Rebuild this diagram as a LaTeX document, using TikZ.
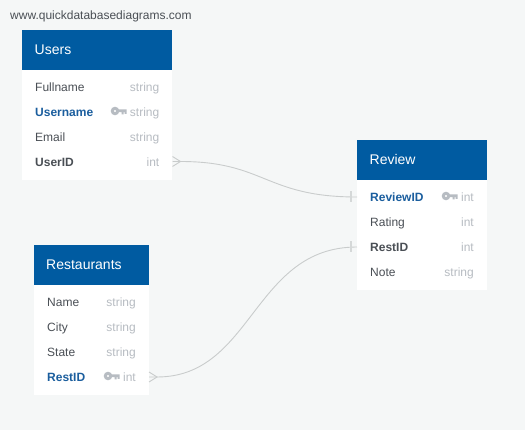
\documentclass[tikz,border=0pt]{standalone}
\usepackage{fontspec}
\setmainfont{Liberation Sans}
\definecolor{bgc}{HTML}{F5F7F7}
\definecolor{headc}{HTML}{005BA1}
\definecolor{rowc}{HTML}{4A4F55}
\definecolor{typec}{HTML}{B7BCC2}
\definecolor{pkc}{HTML}{1B5E9E}
\definecolor{linkc}{HTML}{C9CCCC}
\definecolor{tickc}{HTML}{D5D8D8}
\tikzset{
  x=1pt,y=-1pt,
  tablebody/.style={fill=white,draw=none,inner sep=0pt,anchor=north west},
  tablehead/.style={fill=headc,draw=none,inner sep=0pt,anchor=north west},
  headtext/.style={text=white,font=\fontsize{14}{16}\selectfont,anchor=base west,inner sep=0pt},
  colname/.style={text=rowc,font=\fontsize{12}{14}\selectfont,anchor=base west,inner sep=0pt},
  colkey/.style={colname,text=pkc,font=\fontsize{12}{14}\selectfont\bfseries},
  colfk/.style={colname,font=\fontsize{12}{14}\selectfont\bfseries},
  coltype/.style={text=typec,font=\fontsize{12}{14}\selectfont,anchor=base east,inner sep=0pt},
  link/.style={draw=linkc,line width=0.9pt},
  tickmark/.style={draw=tickc,line width=1.4pt},
  keyicon/.pic={
    \fill[typec,even odd rule] (0,0) circle[radius=4.3] (0,0) circle[radius=1.4];
    \fill[typec] (3,-1.7) rectangle (11.5,1.2) (6.5,1.2) rectangle (8.5,3.4) (9.5,1.2) rectangle (11.5,2.8);
  }
}
\newcommand{\tbl}[6]{% name,x,y,w,h,title
  \node[tablebody,minimum width=#4pt,minimum height=#5pt] (#1) at (#2,#3) {};
  \node[tablehead,minimum width=#4pt,minimum height=40pt] (#1head) at (#2,#3) {};
  \node[headtext] (#1title) at (#2+12.5,#3+25) {#6};
}
\begin{document}
\begin{tikzpicture}
\useasboundingbox[fill=bgc] (0,0) rectangle (525,430);
\node[text=rowc,font=\fontsize{12}{14}\selectfont,anchor=base west,inner sep=0pt] (site) at (10,20) {www.quickdatabasediagrams.com};

% Users
\tbl{users}{22}{30}{150}{150}{Users}
\node[colname] (u1) at (35,91.5) {Fullname};
\node[coltype] (u1t) at (159.5,91.5) {string};
\node[colkey] (u2) at (35,116.5) {Username};
\node[coltype] (u2t) at (159.5,116.5) {string};
\pic at (115,111) {keyicon};
\node[colname] (u3) at (35,141.5) {Email};
\node[coltype] (u3t) at (159.5,141.5) {string};
\node[colfk] (u4) at (35,166.5) {UserID};
\node[coltype] (u4t) at (159.5,166.5) {int};

% Review
\tbl{review}{357}{140}{130}{150}{Review}
\node[colkey] (r1) at (370,201.5) {ReviewID};
\node[coltype] (r1t) at (474,201.5) {int};
\pic at (446,196) {keyicon};
\node[colname] (r2) at (370,226.5) {Rating};
\node[coltype] (r2t) at (474,226.5) {int};
\node[colfk] (r3) at (370,251.5) {RestID};
\node[coltype] (r3t) at (474,251.5) {int};
\node[colname] (r4) at (370,276.5) {Note};
\node[coltype] (r4t) at (474,276.5) {string};

% Restaurants
\tbl{rest}{33.5}{245}{115.5}{150}{Restaurants}
\node[colname] (s1) at (47,306.5) {Name};
\node[coltype] (s1t) at (136,306.5) {string};
\node[colname] (s2) at (47,331.5) {City};
\node[coltype] (s2t) at (136,331.5) {string};
\node[colname] (s3) at (47,356.5) {State};
\node[coltype] (s3t) at (136,356.5) {string};
\node[colkey] (s4) at (47,381.5) {RestID};
\node[coltype] (s4t) at (136,381.5) {int};
\pic at (108,376) {keyicon};

% connector ends
\coordinate (uend) at (172.5,161.5);
\coordinate (rend1) at (357,197);
\coordinate (send) at (149,377);
\coordinate (rend3) at (357,247);

\draw[link] (uend) -- ++(8,0) .. controls (265,161.5) and (265,197) .. (rend1);
\draw[link] (uend) ++(0,-5) -- ++(8,5) -- ++(-8,5);
\draw[tickmark] (rend1) ++(-6,-5.5) -- ++(0,11);
\draw[link] (send) -- ++(8,0) .. controls (253,377) and (253,247) .. (rend3);
\draw[link] (send) ++(0,-5) -- ++(8,5) -- ++(-8,5);
\draw[tickmark] (rend3) ++(-6,-5.5) -- ++(0,11);
\end{tikzpicture}
\end{document}
